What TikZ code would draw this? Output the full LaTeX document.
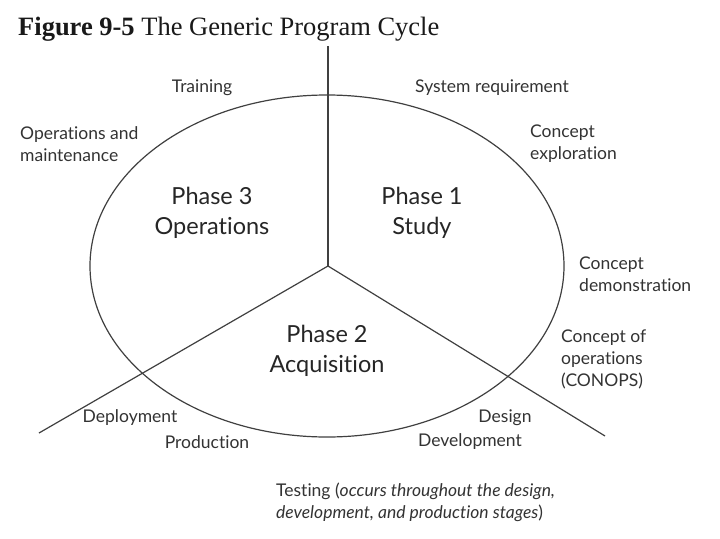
\documentclass[tikz,border=0pt]{standalone}
\usepackage{fontspec}
\setmainfont{Liberation Serif}
\newfontfamily\labelfont[Ligatures=NoCommon]{Lato}
\begin{document}
\begin{tikzpicture}[x=1pt,y=-1pt,
  lbl/.style={font=\labelfont\fontsize{17.5}{22}\selectfont, text=black!80, inner sep=0pt, align=left},
  lblc/.style={lbl, align=center},
  phase/.style={font=\labelfont\fontsize{23.5}{30}\selectfont, text=black!85, inner sep=0pt, align=center},
  ln/.style={draw=black!75, line width=1.2pt}]
\useasboundingbox[fill=white] (0,0) rectangle (720,538);
\node[anchor=base west, inner sep=0pt, font=\fontsize{26.5}{30}\selectfont, text=black!90] (title) at (18,35) {\textbf{Figure 9-5} The Generic Program Cycle};
\coordinate (c) at (328,266);
\coordinate (top) at (328,46);
\coordinate (le) at (39,433);
\coordinate (re) at (605,436);
\draw[ln] (327,266) ellipse [x radius=237, y radius=171];
\draw[ln] (top) -- (c);
\draw[ln] (c) -- (le);
\draw[ln] (c) -- (re);
\node[lblc] (training) at (202,88) {Training};
\node[lblc] (sysreq) at (492,88) {System requirement};
\node[lbl, anchor=west] (om) at (20,144) {Operations and\\maintenance};
\node[lbl, anchor=west] (cexp) at (530,144) {Concept\\exploration};
\node[phase] (p3) at (212,213) {Phase 3\\Operations};
\node[phase] (p1) at (422,213) {Phase 1\\Study};
\node[lbl, anchor=west] (cdem) at (579,274) {Concept\\demonstration};
\node[phase] (p2) at (327,351) {Phase 2\\Acquisition};
\node[lbl, anchor=west] (conops) at (561,359) {Concept of\\operations\\(CONOPS)};
\node[lblc] (deploy) at (130,418) {Deployment};
\node[lblc] (design) at (505,418) {Design};
\node[lblc] (prod) at (207,442) {Production};
\node[lblc] (dev) at (470,442) {Development};
\node[lbl, anchor=west] (test) at (276,502) {Testing (\textit{occurs throughout the design,}\\\textit{development, and production stages})};
\end{tikzpicture}
\end{document}
